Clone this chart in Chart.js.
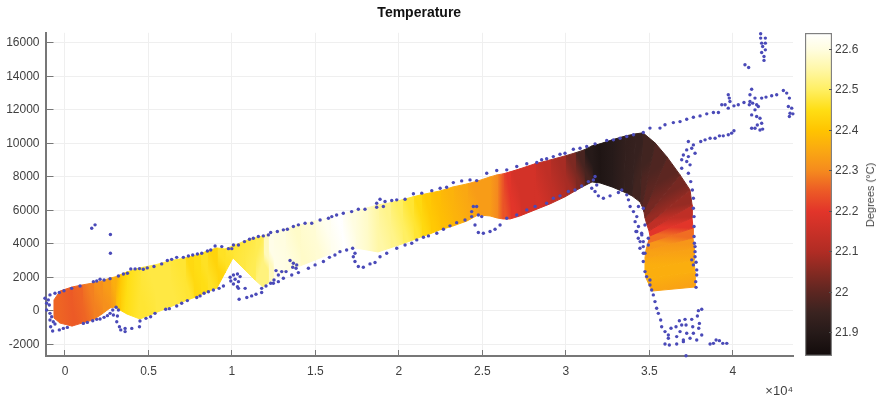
<!DOCTYPE html>
<html>
<head>
<meta charset="utf-8">
<title>Temperature</title>
<script src="https://cdn.jsdelivr.net/npm/chart.js@4/dist/chart.umd.min.js"></script>
<style>
    html, body { margin: 0; padding: 0; background: #fff; overflow: hidden; }
    canvas { position: absolute; top: 0; filter: blur(0.45px); }
    #mapChart { left: 0; }
    #barChart { left: 790px; }
    #barTitle {
        position: absolute; left: 870px; top: 195px; white-space: nowrap;
        font: 11px "Liberation Sans", sans-serif; color: #444;
        transform: translate(-50%, -50%) rotate(-90deg);
    }
</style>
</head>
<body>
<canvas id="mapChart" width="880" height="401"></canvas>
<canvas id="barChart" width="90" height="401"></canvas>
<div id="barTitle">Degrees (°C)</div>
<script>
// survey track dots
const dotX = [
    -1200,-1000,-900,-600,-340,-60,400,900,1700,1900,2100,2340,2700,3200,3500,3740,3940,4200,4460,4690,4930,5330,5790,6130,6390,6690,7090,7390,7650,7930,8190,8530,8730,8990,9390,9790,9990,10090,10390,10750,11050,11280,11580,11880,12180,12320,12720,13080,13320,13680,13980,
    -1100,-940,-1100,-900,-800,-700,-860,-600,-740,-340,-100,140,-900,
    1100,1340,1660,1900,2100,2340,2540,2700,2860,3060,3200,2900,3140,3100,3260,3340,3600,3600,4000,4460,4490,4850,5130,5390,6030,6250,6690,6990,7330,7890,8090,8330,8590,8890,9230,9490,
    9890,10090,10330,10490,9930,10190,10390,10090,10330,10390,10430,10790,10890,11180,11440,11780,11780,12040,12320,12520,12640,12780,12980,13240,13080,12780,12480,13480,13680,13880,13640,13840,13980,13580,
    1600,1800,2720,2720,
    14380,14780,15280,15780,15980,16270,16670,17170,17570,17970,18670,18870,19170,19570,19870,20370,20870,21370,21970,22470,22860,23260,23760,24260,24660,25260,25860,26460,27060,27660,28260,18670,19070,
    14580,14980,15480,15840,16170,16470,16870,17230,17370,17270,17370,17570,17870,18270,18570,18870,19270,19870,20370,20770,21070,21470,21770,22270,22670,23060,23460,23960,24360,24460,24660,24360,24760,24960,24560,24760,25060,25460,25760,26060,26460,27060,27660,28160,
    28550,28850,29250,29650,29950,30450,30850,31250,31750,32450,32850,33250,33650,34050,34640,35040,35640,35940,36440,36840,37240,37640,38040,38440,38840,
    28850,29250,29650,30150,30550,30950,31350,31750,31650,31850,31550,31750,31950,32250,32650,33150,33350,33650,33750,33850,34050,34250,34350,34640,34150,34350,34740,34250,34550,34940,34450,34640,34940,34640,
    37340,37540,37240,37740,37040,37340,36940,37240,37440,36940,37340,37480,37580,37640,37640,37680,37680,37680,37740,37740,
    37700,37740,37540,37800,37640,37840,37840,37780,37800,
    34200,34540,34340,34640,34440,34740,34640,34740,34840,35040,35040,35140,35240,35340,35440,35540,35680,35740,35940,36140,36140,35940,36200,
    36300,36600,36800,37140,37540,36940,37200,37600,37960,38000,37880,37940,38140,36840,37240,37640,38140,36640,37040,37440,37840,36640,37040,38640,38840,39000,39200,39400,39640,37200,
    39140,39340,39540,39730,39830,39730,39790,40070,40330,40670,40990,41190,41430,41730,41990,42330,42630,43030,43230,43390,43330,43530,43430,43600,43390,
    37640,38080,38340,38640,38940,39200,39430,39730,39930,40070,
    41030,41130,41330,41030,41530,41330,41130,41430,41630,41470,41130,41330,41630,41790,41730,
    41670,41670,41950,41730,41950,41790,41950,41730,41870,41870,40730,40950
];
const dotY = [
    760,660,960,1060,1100,1210,1350,1490,1750,1790,1890,1850,1930,2090,2210,2250,2510,2510,2530,2490,2570,2650,2810,3010,3080,3200,3200,3280,3340,3400,3440,3580,3640,3880,3840,3720,3720,3940,3940,4140,4280,4340,4440,4480,4540,4680,4740,4840,4880,5040,5140,
    460,360,60,-140,-340,-640,-940,-780,-1190,-1130,-1040,-980,-540,
    -740,-680,-580,-500,-480,-380,-280,-140,60,220,60,-240,-300,-640,-940,-1130,-1040,-1230,-1040,-940,-600,-440,-340,-140,100,140,300,460,620,800,900,1060,1150,1250,1350,1490,
    2010,2150,2210,2050,1790,1890,1750,1610,1450,1350,700,1350,800,900,1000,1100,1350,1490,1650,1850,2410,2150,2350,2350,1950,1750,1650,3010,2850,2750,2610,2550,2290,2150,
    4940,5140,4560,3440,
    5230,5230,5430,5530,5630,5730,5830,5930,6070,6070,6430,6670,6530,6590,6630,6670,6990,7030,7180,7320,7380,7660,7760,7820,7780,8220,8380,8420,8620,8780,8860,6190,6230,
    2550,2750,2950,3200,3340,3540,3640,3740,3440,3240,2950,2650,2610,2810,2890,3240,3440,3740,3940,4040,4240,4400,4480,4640,4880,5080,5270,5430,5630,6230,6230,5930,5730,5630,5130,4680,4640,4740,4880,5130,5530,5730,6030,6230,
    9020,9080,9210,9350,9410,9650,9710,9810,9970,10170,10210,10310,10410,10510,10650,10910,10910,11110,11240,11300,11440,11560,11640,11760,11840,
    6430,6730,6870,7130,7220,7460,7720,8020,7820,7520,7320,7130,6870,6730,6870,7070,7220,6930,6630,6230,5930,5630,6230,6130,5330,5040,5130,4740,4540,4340,4140,3840,3940,3440,
    10110,9710,9610,9410,9310,9210,9020,8920,8720,8520,8220,7720,7220,6730,6130,5630,5040,4440,3840,3240,
    4040,3540,3050,2910,2750,2450,2150,1750,1410,
    4740,4640,4340,4140,3740,3440,2950,2350,2050,1850,1550,1250,960,560,160,-140,-540,-940,-1230,-1430,-1630,-1970,-2030,
    -1030,-940,-580,-500,-500,-840,-840,-940,-1030,-740,-300,20,100,-1230,-1330,-1330,-1430,-1530,-1730,-1630,-1730,-1970,-1830,-1970,-1930,-1730,-1770,-1930,-1930,-2670,
    11840,12300,12300,12100,12500,12900,12700,12240,12300,12440,12300,12400,12300,12700,12760,12840,12900,13150,13000,12700,12200,12100,11800,11760,11600,
    9910,10110,10210,10310,10310,10450,10450,10510,10610,10750,
    12900,13230,12700,12500,12200,12000,11700,11600,11500,11100,10900,10900,10800,10850,11200,
    16540,16280,16280,15980,15980,15780,15580,15420,15180,14950,14690,14530
];

// temperature band, cross sections read along the track
const bandLowX = [-660,-300,420,1020,1680,2220,2700,3000,3290,3710,4490,5390,6290,7190,7670,8090,8510,9100,9580,10060,10780,11380,11860,12160,12460,13180,14080,14980,15870,16590,17370,18090,18750,19470,20190,20850,21320,21860,22460,23240,24080,24740,25460,25880,26240,26660,27250,28150,29050,29950,30550,31090,31570,32050,32770,33480,33960,34440,34560,34680,34740,34860,34980,35040,34920,34800,34740,34740,34800,35160];
const bandLowY = [-420,-720,-900,-720,-540,-180,180,240,60,-180,-480,-120,240,600,780,960,1130,1370,2270,3160,2450,1850,1430,1670,1850,2330,2690,3040,3400,3640,3760,3640,3520,3760,4000,4240,4420,4600,4840,5070,5370,5730,5670,5550,5490,5490,5670,6030,6390,6810,7160,7460,7700,7640,7400,7100,6870,6510,6270,5910,5550,5130,4780,4480,4060,3640,3160,2450,1970,1190];
const bandTopX = [-660,-300,420,1020,1680,2220,2700,3000,3290,3710,4490,5390,6290,7190,7670,8090,8510,9100,9580,10060,10780,11380,11860,12160,12460,13180,14080,14980,15870,16590,17370,18090,18750,19470,20190,20850,21320,21860,22460,23240,24080,24740,25460,25880,26240,26660,27250,28150,29050,29950,30550,31090,31570,32050,32770,33600,34200,34620,35340,36060,36840,37440,37560,37560,37620,37620,37680,37680,37740,37740];
const bandTopY = [660,1190,1430,1550,1670,1790,1970,2030,2150,2330,2570,2750,2990,3160,3280,3400,3580,3760,3700,3880,4180,4360,4480,4600,4720,4900,5130,5370,5610,5790,5970,6150,6330,6450,6630,6810,6930,7040,7160,7400,7580,7760,8000,8120,8180,8300,8480,8780,9010,9250,9430,9610,9850,9970,10210,10450,10570,10630,10030,9190,8120,7220,6330,5550,4950,4360,3760,3040,2330,1430];
const bandTemp = [22.26,22.26,22.25,22.26,22.29,22.31,22.33,22.36,22.41,22.45,22.47,22.48,22.48,22.47,22.44,22.45,22.46,22.43,22.46,22.47,22.48,22.49,22.52,22.57,22.61,22.60,22.58,22.59,22.62,22.64,22.60,22.58,22.55,22.53,22.50,22.47,22.44,22.41,22.39,22.37,22.35,22.33,22.33,22.30,22.24,22.20,22.17,22.17,22.13,22.09,22.04,21.97,21.90,21.88,21.90,21.93,21.94,21.96,21.98,22.00,22.03,22.07,22.13,22.20,22.27,22.32,22.34,22.36,22.36,22.34];

// axis ticks
const xTicks = [0,5000,10000,15000,20000,25000,30000,35000,40000];
const yTicks = [-2000,0,2000,4000,6000,8000,10000,12000,14000,16000];
const tempTicks = [21.9,22,22.1,22.2,22.3,22.4,22.5,22.6];

// colour scale
const scaleTemps = [21.843,21.9,21.95,22.0,22.05,22.1,22.2,22.25,22.3,22.35,22.4,22.45,22.5,22.55,22.6,22.64];
const scaleColors = ['#120b0b','#261a19','#3a2320','#5c2621','#852a22','#b02c24','#e2352a','#ec5a26','#f58a1e','#faa812','#ffc400','#ffde14','#ffef62','#fff7a6','#fffde0','#ffffff'];

const inkColor = '#3f3f3f';
const axisColor = '#777777';

function hexToRgb(hex) {
    return [1, 3, 5].map(i => parseInt(hex.substr(i, 2), 16));
}

function colorFor(t) {
    let i = 0;
    while (i < scaleTemps.length - 2 && t > scaleTemps[i + 1]) i++;
    const f = Math.min(1, Math.max(0, (t - scaleTemps[i]) / (scaleTemps[i + 1] - scaleTemps[i])));
    const a = hexToRgb(scaleColors[i]), b = hexToRgb(scaleColors[i + 1]);
    return 'rgb(' + a.map((v, k) => Math.round(v + (b[k] - v) * f)).join(',') + ')';
}

// shades a quad from the colour of one cross section to the colour of the next
function bandFill(ctx, i) {
    const sx = ctx.chart.scales.x, sy = ctx.chart.scales.y;
    const x0 = sx.getPixelForValue((bandLowX[i] + bandTopX[i]) / 2);
    const y0 = sy.getPixelForValue((bandLowY[i] + bandTopY[i]) / 2);
    const x1 = sx.getPixelForValue((bandLowX[i + 1] + bandTopX[i + 1]) / 2);
    const y1 = sy.getPixelForValue((bandLowY[i + 1] + bandTopY[i + 1]) / 2);
    if (![x0, y0, x1, y1].every(isFinite)) return colorFor(bandTemp[i]);
    const g = ctx.chart.ctx.createLinearGradient(x0, y0, x1, y1);
    g.addColorStop(0, colorFor(bandTemp[i]));
    g.addColorStop(1, colorFor(bandTemp[i + 1]));
    return g;
}

var datasets = [{
    data: dotX.map((x, i) => ({x: x, y: dotY[i]})),
    showLine: false,
    pointRadius: 1.7,
    pointBackgroundColor: '#4a4ab8',
    pointBorderWidth: 0,
    clip: false
}];

// one closed quad per pair of neighbouring cross sections
for (let i = 0; i < bandTemp.length - 1; i++) {
    datasets.push({
        data: [
            {x: bandLowX[i], y: bandLowY[i]},
            {x: bandTopX[i], y: bandTopY[i]},
            {x: bandTopX[i + 1], y: bandTopY[i + 1]},
            {x: bandLowX[i + 1], y: bandLowY[i + 1]},
            {x: bandLowX[i], y: bandLowY[i]}
        ],
        showLine: true,
        fill: 'shape',
        tension: 0,
        pointRadius: 0,
        backgroundColor: ctx => bandFill(ctx, i),
        borderColor: ctx => bandFill(ctx, i),
        borderWidth: 1
    });
}

new Chart(document.getElementById('mapChart'), {
    type: 'scatter',
    data: {datasets: datasets},
    options: {
        responsive: false,
        animation: false,
        events: [],
        layout: {padding: {right: 87}},
        plugins: {
            legend: {display: false},
            tooltip: {enabled: false},
            title: {
                display: true,
                text: 'Temperature',
                color: '#111',
                fullSize: false,
                font: {family: '"Liberation Sans"', size: 14, weight: 'bold'},
                padding: {top: 5, bottom: 11}
            }
        },
        scales: {
            x: {
                type: 'linear',
                min: -1168,
                max: 43607,
                afterFit: s => { s.height = 45; },
                afterBuildTicks: s => { s.ticks = xTicks.map(v => ({value: v})); },
                border: {color: axisColor, width: 2},
                grid: {color: '#efefef', tickColor: axisColor, tickLength: -6},
                ticks: {
                    autoSkip: false,
                    maxRotation: 0,
                    padding: 14,
                    color: inkColor,
                    font: {family: '"Liberation Sans"', size: 12},
                    callback: v => String(v / 10000)
                },
                title: {
                    display: true,
                    text: '×10⁴',
                    align: 'end',
                    color: inkColor,
                    font: {family: '"Liberation Sans"', size: 13},
                    padding: {top: 0, bottom: 2}
                }
            },
            y: {
                min: -2686,
                max: 16597,
                afterFit: s => { s.width = 45.5; },
                afterBuildTicks: s => { s.ticks = yTicks.map(v => ({value: v})); },
                border: {color: axisColor, width: 2},
                grid: {color: '#efefef', tickColor: axisColor, tickLength: -8},
                ticks: {
                    autoSkip: false,
                    padding: 14,
                    color: inkColor,
                    font: {family: '"Liberation Sans"', size: 12},
                    callback: v => String(v)
                }
            }
        }
    }
});

const barMin = scaleTemps[0];
const barMax = scaleTemps[scaleTemps.length - 1];

new Chart(document.getElementById('barChart'), {
    type: 'bar',
    data: {
        labels: [''],
        datasets: [{
            data: [[barMin, barMax]],
            barPercentage: 1,
            categoryPercentage: 1,
            borderColor: '#808080',
            borderWidth: 1.5,
            borderSkipped: false,
            backgroundColor: function (ctx) {
                const y = ctx.chart.scales.y;
                const y0 = y.getPixelForValue(barMin), y1 = y.getPixelForValue(barMax);
                if (!isFinite(y0) || !isFinite(y1)) return '#000';
                const g = ctx.chart.ctx.createLinearGradient(0, y0, 0, y1);
                scaleTemps.forEach((t, i) => g.addColorStop((t - barMin) / (barMax - barMin), scaleColors[i]));
                return g;
            }
        }]
    },
    options: {
        responsive: false,
        animation: false,
        events: [],
        layout: {padding: {left: 15, top: 33, bottom: 45}},
        plugins: {legend: {display: false}, tooltip: {enabled: false}},
        scales: {
            x: {display: false},
            y: {
                position: 'right',
                min: barMin,
                max: barMax,
                afterFit: s => { s.width = 48; },
                afterBuildTicks: s => { s.ticks = tempTicks.map(v => ({value: v})); },
                border: {display: false},
                grid: {drawOnChartArea: false, tickColor: '#555', tickLength: -3, z: 1},
                ticks: {
                    autoSkip: false,
                    padding: 6,
                    color: inkColor,
                    font: {family: '"Liberation Sans"', size: 12},
                    callback: v => String(v)
                }
            }
        }
    }
});
</script>
</body>
</html>
